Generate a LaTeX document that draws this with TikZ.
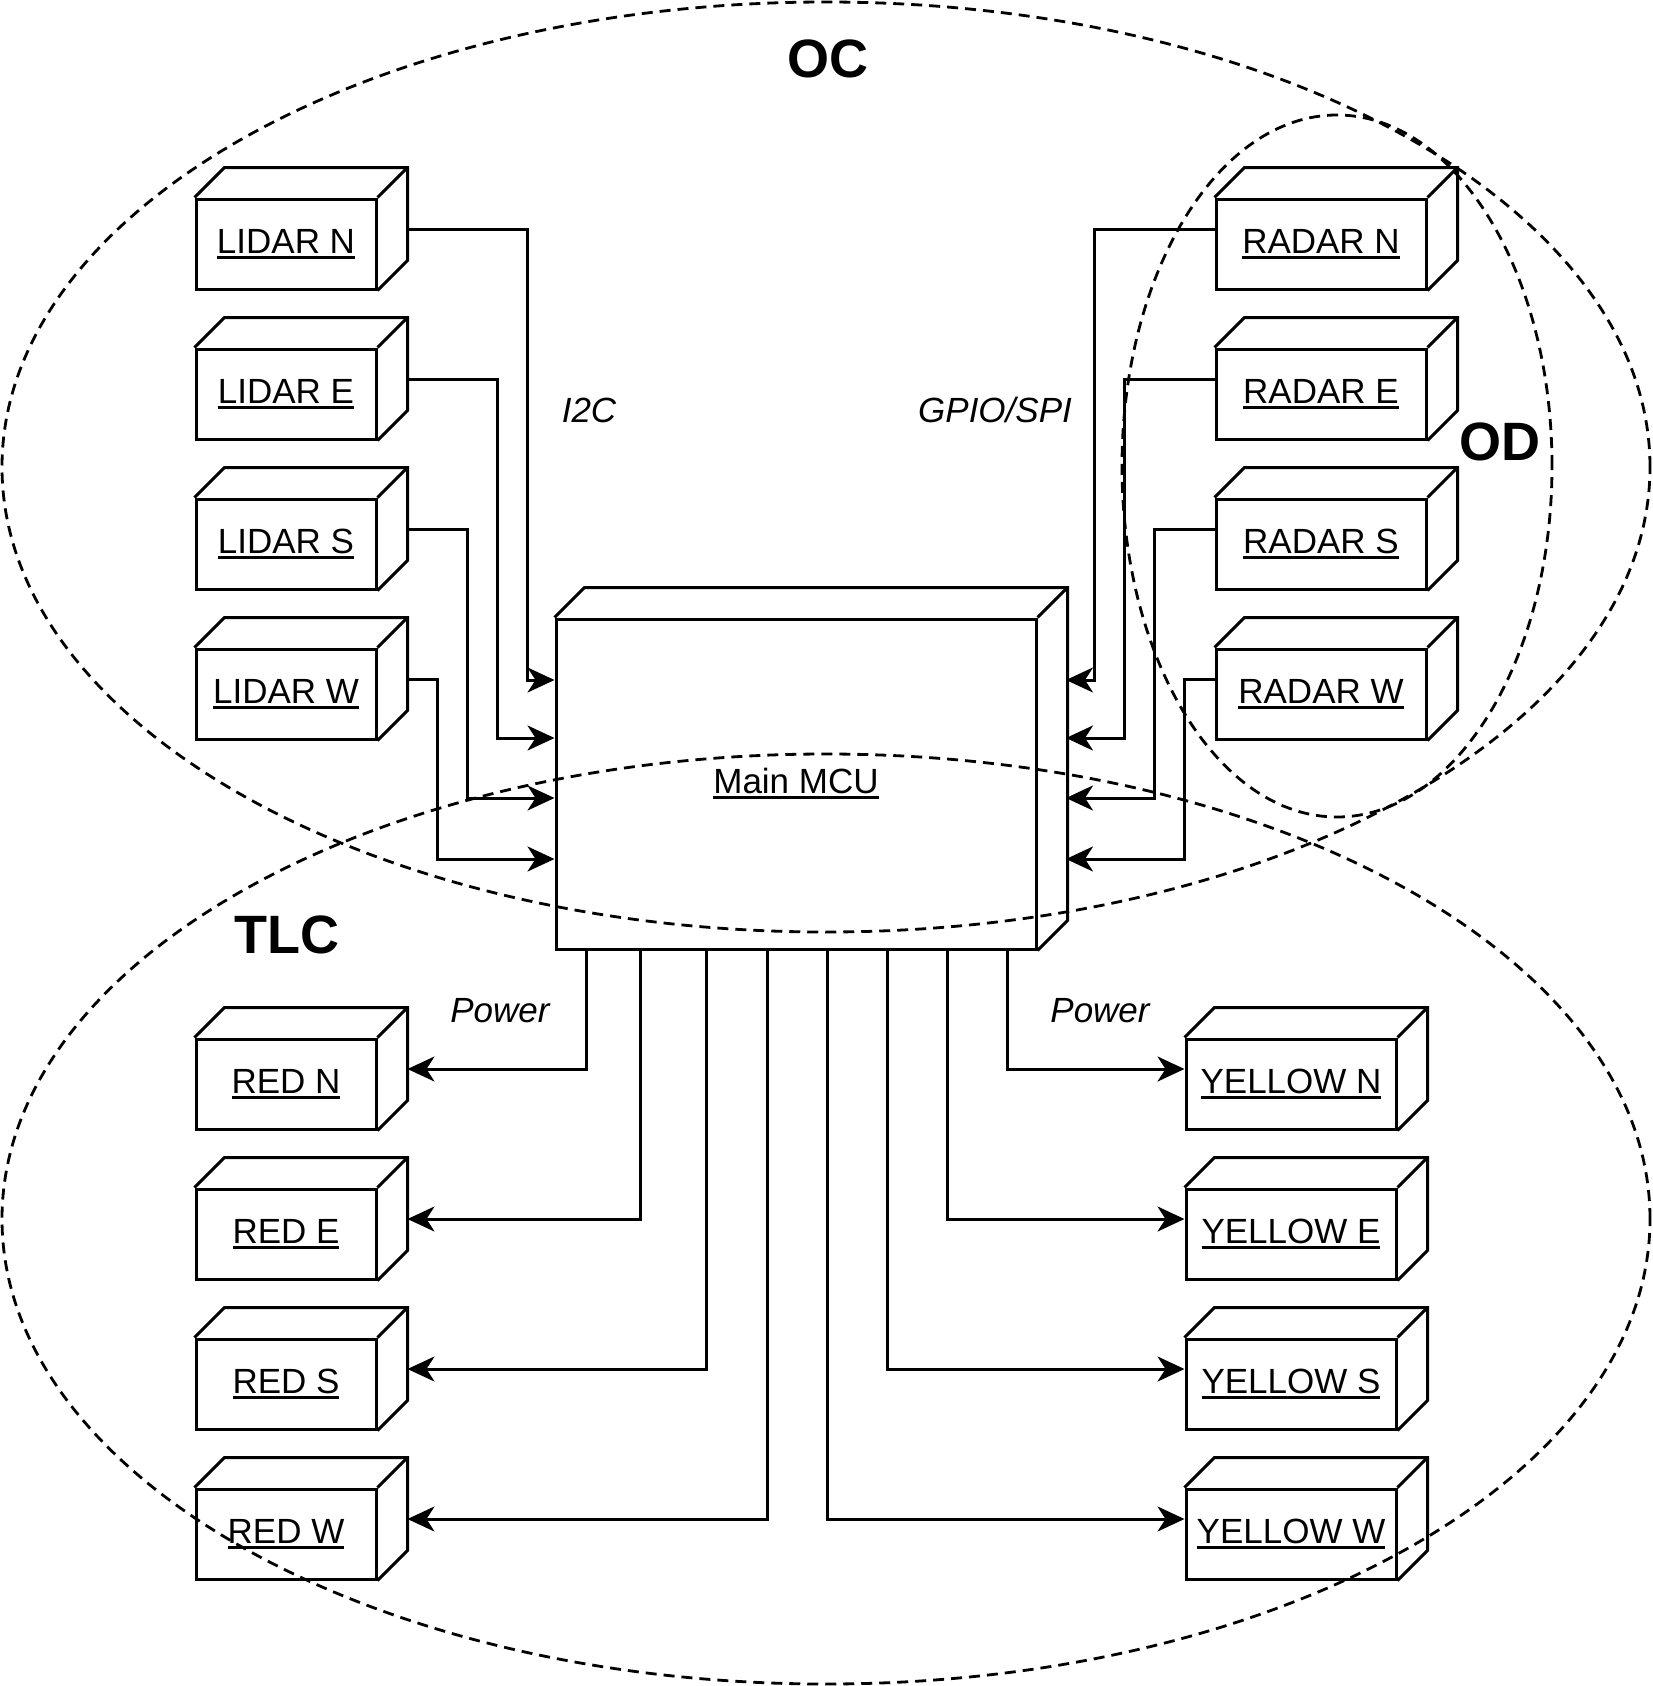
\documentclass[tikz,border=0pt]{standalone}
\usepackage{fontspec}
\setmainfont{Liberation Sans}
\usetikzlibrary{arrows.meta,calc}

\newcommand{\lab}{\fontsize{35}{42}\selectfont}
\newsavebox\labbox
\newcommand{\ulab}[1]{\sbox\labbox{#1}\rlap{\rule[-5.5pt]{\wd\labbox}{3pt}}\usebox\labbox}
% top and side faces of a box, drawn from its front face node
\newcommand{\cubeback}[1]{%
  \draw[boxline] (#1.north west) -- ++(30,-30) -| ($(#1.south east)+(30,-30)$) -- (#1.south east);
  \draw[boxline] (#1.north east) -- ++(30,-30);
}

\tikzset{
  boxline/.style={line width=3pt},
  face/.style={draw, line width=3pt, minimum height=90pt, inner sep=0pt, font=\lab},
  wire/.style={line width=3pt, -{Stealth[length=27pt,width=25pt,inset=8pt]}},
  zone/.style={line width=2.8pt, dash pattern=on 11pt off 7pt},
  zonelabel/.style={font=\fontsize{54}{60}\selectfont\bfseries},
  buslabel/.style={font=\lab\itshape},
}

\begin{document}
\begin{tikzpicture}[x=1pt,y=-1pt]
            \useasboundingbox (0,0) rectangle (1653,1686);
            % Main MCU
            \node[face, minimum width=480pt, minimum height=330pt] (mcu) at (796,784) {\ulab{Main MCU}};
            \cubeback{mcu}
            % LIDAR sensors
            \foreach \d/\y/\dx/\yy in {N/244/120/680, E/394/90/738, S/544/60/798, W/694/30/859} {
                \node[face, minimum width=180pt] (lidar\d) at (286,\y) {\ulab{LIDAR \d}};
                \cubeback{lidar\d}
                \coordinate (lidar\d-out) at ($(lidar\d.east)+(30,-15)$);
                \coordinate (mcuL\d) at (mcu.west |- 0,\yy);
                \draw[wire] (lidar\d-out) -- ++(\dx,0) |- (mcuL\d);
            }
            % RADAR sensors
            \foreach \d/\y/\dx/\yy in {N/244/120/680, E/394/90/738, S/544/60/798, W/694/30/859} {
                \node[face, minimum width=210pt] (radar\d) at (1321,\y) {\ulab{RADAR \d}};
                \cubeback{radar\d}
                \coordinate (radar\d-out) at ($(radar\d.west)+(0,-15)$);
                \coordinate (mcuR\d) at (1066,\yy);
                \draw[wire] (radar\d-out) -- ++(-\dx,0) |- (mcuR\d);
            }
            % red lights
            \foreach \d/\y/\x in {N/1084/586, E/1234/640, S/1384/706, W/1534/767} {
                \node[face, minimum width=180pt] (red\d) at (286,\y) {\ulab{RED \d}};
                \cubeback{red\d}
                \coordinate (red\d-in) at ($(red\d.east)+(30,-15)$);
                \draw[wire] (mcu.south -| \x,0) |- (red\d-in);
            }
            % yellow lights
            \foreach \d/\y/\x in {N/1084/1007, E/1234/947, S/1384/887, W/1534/827} {
                \node[face, minimum width=210pt] (yellow\d) at (1291,\y) {\ulab{YELLOW \d}};
                \cubeback{yellow\d}
                \coordinate (yellow\d-in) at ($(yellow\d.west)+(0,-15)$);
                \draw[wire] (mcu.south -| \x,0) |- (yellow\d-in);
            }
            % Bus labels
            \node[buslabel] (i2c) at (589,410) {I2C};
            \node[buslabel] (gpio) at (995,410) {GPIO/SPI};
            \node[buslabel] (pwrL) at (500,1011) {Power};
            \node[buslabel] (pwrR) at (1100,1011) {Power};
            % Zones
            \draw[zone] (826,467) ellipse [x radius=824pt, y radius=465pt];
            \draw[zone] (826,1219) ellipse [x radius=824pt, y radius=465pt];
            \draw[zone] (1337,466) ellipse [x radius=215pt, y radius=351pt];
            \node[zonelabel] (oc) at (828,59) {OC};
            \node[zonelabel] (od) at (1500,442) {OD};
            \node[zonelabel] (tlc) at (287,935) {TLC};
        \end{tikzpicture}
\end{document}
